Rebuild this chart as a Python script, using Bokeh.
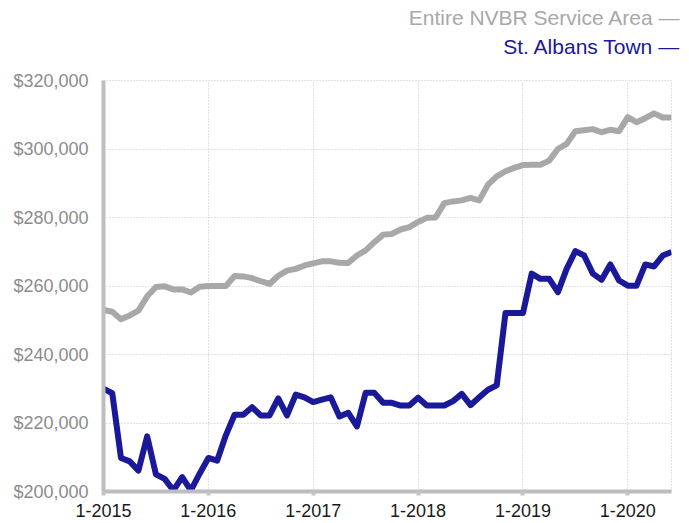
from bokeh.plotting import figure
from bokeh.models import Range1d, FixedTicker, NumeralTickFormatter, Title
from bokeh.embed import file_html
from bokeh.resources import INLINE

# ---- data (monthly, Jan 2015 .. Jun 2020) ----
months = list(range(66))
nvbr = [253000, 252500, 250300, 251400, 252800, 257000, 259700, 259900, 259000, 259000, 258100, 259800,
        260000, 260000, 260000, 262900, 262800, 262300, 261400, 260600, 263000, 264500, 265000, 266000,
        266600, 267200, 267200, 266800, 266700, 268900, 270400, 272800, 275000, 275200, 276500, 277200,
        278700, 279900, 280000, 284200, 284700, 285000, 285700, 285000, 289600, 292000, 293500, 294500,
        295300, 295400, 295400, 296600, 300000, 301500, 305200, 305500, 305800, 304900, 305600, 305200,
        309300, 307800, 309000, 310400, 309200, 309200]
st_albans = [230000, 228700, 209800, 208800, 206100, 216100, 205000, 203700, 200300, 204200, 200300, 205200,
             209800, 209000, 216400, 222400, 222400, 224600, 222200, 222200, 227200, 222200, 228300, 227500,
             226100, 226800, 227500, 221900, 223000, 219000, 228800, 228800, 225900, 225900, 225100, 225100,
             227400, 225100, 225100, 225100, 226400, 228500, 225200, 227500, 229700, 231000, 252100, 252100,
             252100, 263600, 262100, 262100, 258200, 265000, 270200, 268900, 263600, 261800, 266300, 261600,
             260100, 260100, 266300, 265700, 268900, 269900]
series_names = ["Entire NVBR Service Area", "St. Albans Town"]
x_ticks = [0, 12, 24, 36, 48, 60]
x_tick_labels = ["1-2015", "1-2016", "1-2017", "1-2018", "1-2019", "1-2020"]
y_ticks = [200000, 220000, 240000, 260000, 280000, 300000, 320000]

GREY = "#a8a8a8"
BLUE = "#19199a"
FONT = "Liberation Sans"

p = figure(width=689, height=523, frame_width=568, frame_height=411,
           min_border_left=103, min_border_right=18, min_border_top=80, min_border_bottom=32,
           output_backend="svg", toolbar_location=None,
           x_range=Range1d(0, 65), y_range=Range1d(200000, 320000))
p.background_fill_color = "white"
p.border_fill_color = "white"
p.outline_line_color = "#c4c4c4"
p.outline_line_dash = "1 2"
p.outline_line_width = 1

p.line(months, nvbr, line_color=GREY, line_width=6, line_join="round")
p.line(months, st_albans, line_color=BLUE, line_width=6, line_join="round")

# axes
p.xaxis.ticker = FixedTicker(ticks=x_ticks)
p.xaxis.major_label_overrides = {t: l for t, l in zip(x_ticks, x_tick_labels)}
p.yaxis.ticker = FixedTicker(ticks=y_ticks)
p.yaxis.formatter = NumeralTickFormatter(format="$0,0")

for ax in (p.xaxis, p.yaxis):
    ax.axis_line_color = "#bdbdbd"
    ax.axis_line_width = 4
    ax.minor_tick_line_color = None
    ax.major_label_text_font = FONT
    ax.major_label_text_font_size = "18px"

p.xaxis.major_tick_line_color = "#c4c4c4"
p.xaxis.major_tick_line_width = 4
p.xaxis.major_tick_in = 0
p.xaxis.major_tick_out = 4
p.xaxis.major_label_standoff = 8
p.xaxis.major_label_text_color = "#1a1a1a"

p.yaxis.major_tick_line_color = None
p.yaxis.major_tick_in = 0
p.yaxis.major_tick_out = 0
p.yaxis.major_label_standoff = 15
p.yaxis.major_label_text_color = "#8c8c8c"

# grid
for g in (p.xgrid, p.ygrid):
    g.grid_line_color = "#c4c4c4"
    g.grid_line_dash = "1 2"
    g.grid_line_width = 1
p.xgrid.ticker = FixedTicker(ticks=x_ticks)
p.ygrid.ticker = FixedTicker(ticks=y_ticks)

# blank spacer between frame and legend lines
p.add_layout(Title(text=" ", text_font=FONT, text_font_size="10px", standoff=8), "above")

# legend as right-aligned titles above the frame (closest to frame added first)
leg_colors = [GREY, BLUE]
leg_standoff = [4, 4]
for name, col, so in reversed(list(zip(series_names, leg_colors, leg_standoff))):
    p.add_layout(Title(text=name + "  —", align="right", text_color=col, text_font=FONT,
                       text_font_size="21px", text_font_style="normal", offset=-15,
                       standoff=so), "above")

open("out.html", "w").write(file_html(p, INLINE))
